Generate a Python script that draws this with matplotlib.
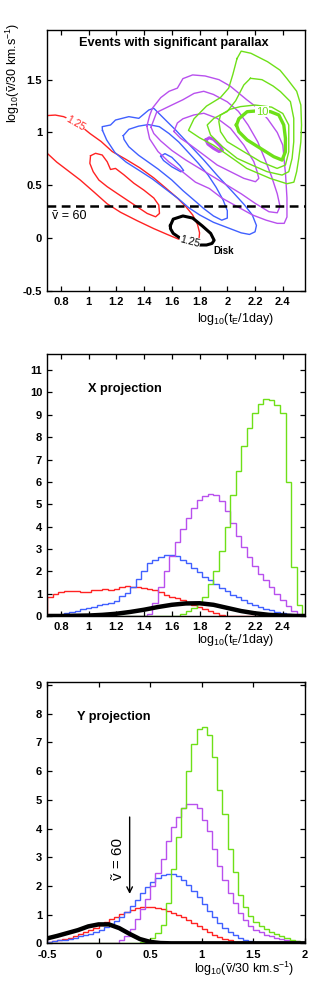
"""Parallax events: 2D contours of (tE, v~) and their X / Y projections"""
import numpy as np
import matplotlib
matplotlib.use("Agg")
import matplotlib.pyplot as plt

plt.rcParams["font.family"] = ["Liberation Sans", "DejaVu Sans"]
plt.rcParams["mathtext.default"] = "regular"

RED = "#ff2222"
BLUE = "#4060ff"
PURPLE = "#b850ee"
GREEN = "#6ee018"

## Top panel: contour lines, (log10 tE, log10 v~/30)
red_outer = [(0.70, 1.16), (0.76, 1.165), (0.82, 1.15), (0.88, 1.115), (0.94, 1.065),
             (1.01, 0.99), (1.09, 0.915), (1.17, 0.82), (1.27, 0.745), (1.37, 0.665),
             (1.47, 0.57), (1.56, 0.47), (1.64, 0.38), (1.70, 0.30), (1.75, 0.22),
             (1.785, 0.13), (1.80, 0.05), (1.795, -0.02), (1.77, -0.045), (1.72, -0.04),
             (1.64, -0.005), (1.567, 0.035), (1.47, 0.09), (1.35, 0.165), (1.23, 0.245),
             (1.134, 0.325), (1.04, 0.435), (0.94, 0.55), (0.85, 0.64), (0.77, 0.72),
             (0.70, 0.805)]
red_inner = [(1.014, 0.78), (1.05, 0.803), (1.098, 0.787), (1.134, 0.723), (1.158, 0.65),
             (1.194, 0.66), (1.254, 0.60), (1.326, 0.52), (1.398, 0.455), (1.47, 0.38),
             (1.506, 0.313), (1.511, 0.234), (1.483, 0.202), (1.422, 0.234), (1.35, 0.297),
             (1.278, 0.36), (1.206, 0.423), (1.134, 0.487), (1.074, 0.55), (1.033, 0.629),
             (1.009, 0.708)]
blue_outer = [(1.10, 1.02), (1.098, 1.055), (1.158, 1.071), (1.194, 1.118), (1.29, 1.15),
              (1.362, 1.134), (1.434, 1.213), (1.47, 1.229), (1.53, 1.15), (1.63, 1.02),
              (1.73, 0.88), (1.83, 0.74), (1.93, 0.59), (2.03, 0.45), (2.12, 0.32),
              (2.18, 0.22), (2.21, 0.12), (2.20, 0.06), (2.16, 0.035), (2.10, 0.05),
              (2.0, 0.10), (1.9, 0.15), (1.8, 0.22), (1.72, 0.29), (1.65, 0.37),
              (1.55, 0.47), (1.46, 0.56), (1.36, 0.645), (1.27, 0.72), (1.19, 0.81),
              (1.13, 0.93)]
blue_mid = [(1.25, 0.97), (1.29, 1.03), (1.36, 1.06), (1.43, 1.075), (1.51, 1.055),
            (1.58, 0.99), (1.65, 0.91), (1.72, 0.81), (1.79, 0.71), (1.86, 0.60),
            (1.92, 0.48), (1.97, 0.36), (2.0, 0.26), (2.0, 0.19), (1.96, 0.17),
            (1.9, 0.21), (1.83, 0.28), (1.76, 0.36), (1.68, 0.45), (1.6, 0.55),
            (1.5, 0.655), (1.43, 0.72), (1.36, 0.785), (1.29, 0.865), (1.255, 0.935)]
blue_inner = [(1.52, 0.775), (1.55, 0.80), (1.60, 0.765), (1.66, 0.685), (1.685, 0.64),
              (1.665, 0.628), (1.60, 0.675), (1.54, 0.735)]
purple_outer = [(1.42, 1.06), (1.44, 1.16), (1.46, 1.23), (1.52, 1.33), (1.58, 1.39),
                (1.64, 1.42), (1.68, 1.51), (1.75, 1.545), (1.84, 1.535), (1.94, 1.50),
                (2.02, 1.44), (2.14, 1.31), (2.22, 1.23), (2.29, 1.13), (2.36, 1.0),
                (2.40, 0.88), (2.42, 0.6), (2.43, 0.38), (2.43, 0.2), (2.41, 0.14),
                (2.36, 0.14), (2.28, 0.17), (2.18, 0.22), (2.07, 0.3), (1.96, 0.38),
                (1.87, 0.47), (1.77, 0.53), (1.675, 0.63), (1.58, 0.72), (1.5, 0.82),
                (1.44, 0.94)]
purple_mid = [(1.45, 1.05), (1.49, 1.19), (1.60, 1.26), (1.68, 1.31), (1.76, 1.37),
              (1.83, 1.39), (1.90, 1.36), (2.0, 1.29), (2.08, 1.20), (2.15, 1.07),
              (2.22, 0.91), (2.27, 0.75), (2.32, 0.58), (2.36, 0.42), (2.38, 0.30),
              (2.36, 0.24), (2.30, 0.25), (2.20, 0.33), (2.10, 0.42), (2.0, 0.5),
              (1.9, 0.58), (1.8, 0.66), (1.7, 0.74), (1.6, 0.83), (1.52, 0.92),
              (1.47, 0.99)]
purple_inner = [(1.615, 1.01), (1.64, 1.09), (1.68, 1.13), (1.759, 1.166), (1.831, 1.182),
                (1.927, 1.134), (2.023, 1.04), (2.119, 0.881), (2.191, 0.724), (2.215, 0.629),
                (2.227, 0.566), (2.203, 0.534), (2.119, 0.566), (2.023, 0.629), (1.927, 0.692),
                (1.831, 0.787), (1.735, 0.881), (1.663, 0.945)]
purple_core = [(1.845, 0.93), (1.87, 0.95), (1.90, 0.935), (1.95, 0.87), (1.965, 0.83),
               (1.94, 0.82), (1.90, 0.85), (1.86, 0.89)]
green_outer = [(2.07, 1.70), (2.10, 1.77), (2.17, 1.75), (2.29, 1.67), (2.38, 1.59),
               (2.43, 1.51), (2.50, 1.39), (2.53, 1.26), (2.535, 1.07), (2.53, 0.91),
               (2.515, 0.755), (2.50, 0.63), (2.48, 0.53), (2.43, 0.515), (2.31, 0.565),
               (2.14, 0.66), (2.0, 0.79), (1.90, 0.88), (1.80, 0.95), (1.72, 1.02),
               (1.76, 1.13), (1.85, 1.25), (1.95, 1.33), (2.01, 1.42), (2.04, 1.55),
               (2.06, 1.65)]
green_mid = [(2.167, 1.513), (2.25, 1.50), (2.33, 1.44), (2.383, 1.387), (2.455, 1.292),
             (2.479, 1.134), (2.479, 0.913), (2.467, 0.755), (2.443, 0.629), (2.395, 0.597),
             (2.287, 0.629), (2.18, 0.69), (2.071, 0.755), (1.97, 0.86), (1.879, 0.977),
             (1.855, 1.071), (1.903, 1.134), (1.999, 1.198), (2.06, 1.30), (2.119, 1.45)]
green_inner = [(1.951, 1.166), (2.02, 1.22), (2.095, 1.245), (2.2, 1.26), (2.32, 1.24),
               (2.40, 1.18), (2.443, 1.071), (2.443, 0.818), (2.419, 0.692), (2.359, 0.66),
               (2.239, 0.724), (2.119, 0.818), (1.999, 0.913), (1.951, 1.008), (1.939, 1.103)]
green_core = [(2.066, 1.071), (2.083, 1.13), (2.143, 1.197), (2.22, 1.205), (2.311, 1.197),
              (2.371, 1.166), (2.407, 1.071), (2.419, 0.945), (2.419, 0.818), (2.395, 0.739),
              (2.335, 0.771), (2.239, 0.85), (2.143, 0.929), (2.083, 1.008)]
disk_contour = [(1.59, 0.12), (1.61, 0.18), (1.68, 0.21), (1.75, 0.19), (1.82, 0.115),
                (1.88, 0.045), (1.905, -0.02), (1.89, -0.05), (1.85, -0.065), (1.80, -0.065),
                (1.72, -0.045), (1.66, 0.0), (1.61, 0.045), (1.59, 0.09)]

## Middle panel: X projection histograms (bins of 0.04 from 0.70)
x_edges = np.round(np.arange(0.70, 2.581, 0.04), 2)
x_red = [0.85, 1.0, 1.08, 1.12, 1.13, 1.12, 1.09, 1.08, 1.15, 1.18,
         1.19, 1.14, 1.22, 1.30, 1.32, 1.31, 1.30, 1.27, 1.22, 1.15,
         1.06, 0.96, 0.87, 0.80, 0.70, 0.60, 0.50, 0.40, 0.30, 0.21,
         0.13, 0.06, 0.02, 0, 0, 0, 0, 0, 0, 0,
         0, 0, 0, 0, 0, 0, 0]
x_blue = [0, 0, 0.05, 0.12, 0.18, 0.24, 0.30, 0.36, 0.42, 0.48,
          0.53, 0.57, 0.68, 0.88, 1.05, 1.28, 1.65, 2.0, 2.35, 2.52,
          2.65, 2.72, 2.73, 2.68, 2.52, 2.35, 2.15, 1.95, 1.76, 1.60,
          1.42, 1.27, 1.10, 0.95, 0.83, 0.70, 0.59, 0.50, 0.41, 0.33,
          0.25, 0.18, 0.12, 0.07, 0.02, 0, 0]
x_purple = [0] * 18 + [0.1, 0.6, 1.3, 2.0, 2.7, 3.3, 3.9, 4.4, 4.85, 5.2,
                       5.38, 5.45, 5.4, 5.15, 4.7, 4.15, 3.6, 3.1, 2.65, 2.25,
                       1.9, 1.6, 1.3, 1.0, 0.72, 0.45, 0.22, 0.03, 0]
x_green = [0] * 23 + [0.02, 0.1, 0.22, 0.35, 0.55, 0.85, 1.45, 2.0, 2.9, 4.0,
                      5.4, 6.5, 7.6, 8.4, 9.1, 9.5, 9.7, 9.65, 9.45, 9.1,
                      6.0, 2.2, 0.5, 0]
x_disk_t = [0.70, 0.8, 0.9, 1.0, 1.1, 1.2, 1.3, 1.4, 1.5, 1.6, 1.7, 1.8, 1.9, 2.0,
            2.1, 2.2, 2.3, 2.4, 2.5, 2.56]
x_disk = [0.0, 0.0, 0.01, 0.02, 0.05, 0.1, 0.18, 0.28, 0.4, 0.5, 0.56, 0.57, 0.5, 0.36,
          0.22, 0.12, 0.05, 0.02, 0.0, 0.0]

## Bottom panel: Y projection histograms (bins of 0.05 from -0.5)
y_edges = np.round(np.arange(-0.5, 2.001, 0.05), 2)
y_red = [0.05, 0.08, 0.11, 0.15, 0.20, 0.25, 0.31, 0.38, 0.46, 0.55,
         0.64, 0.74, 0.84, 0.93, 1.02, 1.10, 1.17, 1.22, 1.26, 1.27,
         1.26, 1.23, 1.19, 1.13, 1.07, 1.00, 0.92, 0.83, 0.72, 0.61,
         0.50, 0.39, 0.30, 0.22, 0.15, 0.10, 0.06, 0.03, 0.01, 0,
         0, 0, 0, 0, 0, 0, 0, 0, 0, 0]
y_blue = [0.04, 0.07, 0.10, 0.13, 0.16, 0.20, 0.24, 0.29, 0.34, 0.40,
          0.47, 0.56, 0.66, 0.78, 0.93, 1.10, 1.30, 1.52, 1.75, 1.95,
          2.12, 2.27, 2.37, 2.43, 2.43, 2.35, 2.20, 2.02, 1.82, 1.60,
          1.37, 1.13, 0.92, 0.72, 0.55, 0.40, 0.29, 0.20, 0.13, 0.08,
          0.04, 0.02, 0.01, 0, 0, 0, 0, 0, 0, 0]
y_purple = [0] * 13 + [0.02, 0.1, 0.25, 0.5, 0.85, 1.2, 1.55, 2.0, 2.45, 2.95,
                       3.55, 4.05, 4.4, 4.7, 4.87, 4.85, 4.7, 4.3, 3.9, 3.3,
                       2.7, 2.2, 1.75, 1.42, 1.05, 0.8, 0.62, 0.48, 0.38, 0.3,
                       0.24, 0.19, 0.15, 0.12, 0.09, 0.07, 0.05]
y_green = [0] * 18 + [0.03, 0.1, 0.2, 0.35, 0.65, 1.4, 2.6, 3.7, 4.7, 6.0,
                      6.95, 7.45, 7.55, 7.25, 6.5, 5.35, 4.5, 3.3, 2.5, 1.7,
                      1.25, 0.95, 0.75, 0.62, 0.5, 0.4, 0.32, 0.25, 0.18, 0.13,
                      0.09, 0.05]
y_disk_v = [-0.5, -0.4, -0.3, -0.2, -0.1, 0.0, 0.1, 0.2, 0.3, 0.4, 0.5, 0.6, 0.7, 2.0]
y_disk = [0.17, 0.26, 0.36, 0.46, 0.59, 0.66, 0.66, 0.53, 0.33, 0.15, 0.05, 0.01, 0.0, 0.0]

V60 = np.log10(60 / 30)
XLABEL_T = r"log$_{10}$(t$_E$/1day)"
XLABEL_V = r"log$_{10}$(ṽ/30 km.s$^{-1}$)"


def style_axes(ax, xticks, yticks):
    """Matlab-like box with inward ticks on every side and bold tick labels"""
    ax.set_xticks(xticks)
    ax.set_yticks(yticks)
    ax.set_xticklabels([f"{t:g}" for t in xticks], fontweight="bold", fontsize=8)
    ax.set_yticklabels([f"{t:g}" for t in yticks], fontweight="bold", fontsize=8)
    ax.tick_params(direction="in", length=3.5, width=0.9, top=True, right=True)
    ax.tick_params(axis="x", pad=4.5)
    ax.tick_params(axis="y", pad=3.5)
    for spine in ax.spines.values():
        spine.set_linewidth(1.0)


def draw_loop(ax, pts, color, lw=1.0, closed=True):
    xs = [p[0] for p in pts]
    ys = [p[1] for p in pts]
    if closed:
        xs.append(xs[0])
        ys.append(ys[0])
    ax.plot(xs, ys, color=color, lw=lw, solid_joinstyle="round")


fig = plt.figure(figsize=(3.27, 9.81), dpi=100)
ax1 = fig.add_axes([0.1437, 0.7034, 0.789, 0.266])
ax2 = fig.add_axes([0.1437, 0.3721, 0.789, 0.267])
ax3 = fig.add_axes([0.1437, 0.0384, 0.789, 0.266])

## Top panel
draw_loop(ax1, red_outer, RED, closed=False)
draw_loop(ax1, red_inner, RED)
for pts in (blue_outer, blue_mid, blue_inner):
    draw_loop(ax1, pts, BLUE)
for pts in (purple_outer, purple_mid, purple_inner):
    draw_loop(ax1, pts, PURPLE)
draw_loop(ax1, purple_core, PURPLE, lw=2.2)
for pts in (green_outer, green_mid, green_inner):
    draw_loop(ax1, pts, GREEN)
draw_loop(ax1, green_core, GREEN, lw=2.4)
draw_loop(ax1, disk_contour, "black", lw=2.2)
ax1.axhline(V60, color="black", lw=1.8, dashes=(3.5, 2.2))

white = dict(facecolor="white", edgecolor="none", pad=0.3)
ax1.text(0.905, 1.085, "1.25", color=RED, fontsize=7.5, rotation=-30,
         ha="center", va="center", bbox=white)
ax1.text(1.73, -0.03, "1.25", color="black", fontsize=7.5, rotation=-15,
         ha="center", va="center", bbox=white)
ax1.text(2.25, 1.195, "10", color=GREEN, fontsize=8, ha="center", va="center", bbox=white)
ax1.text(1.975, -0.125, "Disk", fontsize=7, fontweight="bold", ha="center", va="center")
ax1.text(0.735, 0.205, "ṽ = 60", fontsize=9, ha="left", va="center")
ax1.text(1.615, 1.845, "Events with significant parallax", fontsize=9.2,
         fontweight="bold", ha="center", va="center")
ax1.set_xlim(0.70, 2.56)
ax1.set_ylim(-0.5, 1.97)
style_axes(ax1, [0.8, 1.0, 1.2, 1.4, 1.6, 1.8, 2.0, 2.2, 2.4], [-0.5, 0, 0.5, 1, 1.5])
ax1.text(0.729, -0.075, XLABEL_T, transform=ax1.transAxes, fontsize=9,
         ha="center", va="top")
ax1.text(-0.132, 0.835, XLABEL_V, transform=ax1.transAxes, fontsize=9,
         rotation=90, ha="center", va="center")

## Middle panel
ax2.stairs(x_red, x_edges, color=RED, lw=1.0)
ax2.stairs(x_blue, x_edges, color=BLUE, lw=1.0)
ax2.stairs(x_purple, x_edges, color=PURPLE, lw=1.0)
ax2.stairs(x_green, x_edges, color=GREEN, lw=1.0)
ax2.plot(x_disk_t, x_disk, color="black", lw=3.2)
ax2.text(0.995, 10.15, "X projection", fontsize=9.2, fontweight="bold",
         ha="left", va="center")
ax2.set_xlim(0.70, 2.56)
ax2.set_ylim(0, 11.72)
style_axes(ax2, [0.8, 1.0, 1.2, 1.4, 1.6, 1.8, 2.0, 2.2, 2.4], list(range(0, 12)))
ax2.text(0.729, -0.062, XLABEL_T, transform=ax2.transAxes, fontsize=9,
         ha="center", va="top")

## Bottom panel
ax3.stairs(y_red, y_edges, color=RED, lw=1.0)
ax3.stairs(y_blue, y_edges, color=BLUE, lw=1.0)
ax3.stairs(y_purple, y_edges, color=PURPLE, lw=1.0)
ax3.stairs(y_green, y_edges, color=GREEN, lw=1.0)
ax3.plot(y_disk_v, y_disk, color="black", lw=3.2)
ax3.annotate("", xy=(V60, 1.72), xytext=(V60, 4.4),
             arrowprops=dict(arrowstyle="->", lw=1.0, color="black",
                             shrinkA=0, shrinkB=0))
ax3.text(0.19, 2.95, "ṽ = 60", fontsize=11, rotation=90, ha="center", va="center")
ax3.text(-0.211, 7.87, "Y projection", fontsize=9.2, fontweight="bold",
         ha="left", va="center")
ax3.set_xlim(-0.5, 2.0)
ax3.set_ylim(0, 9.09)
style_axes(ax3, [-0.5, 0, 0.5, 1, 1.5, 2], list(range(0, 10)))
ax3.text(0.764, -0.062, XLABEL_V, transform=ax3.transAxes, fontsize=9,
         ha="center", va="top")

fig.savefig("out.png", dpi=100)
